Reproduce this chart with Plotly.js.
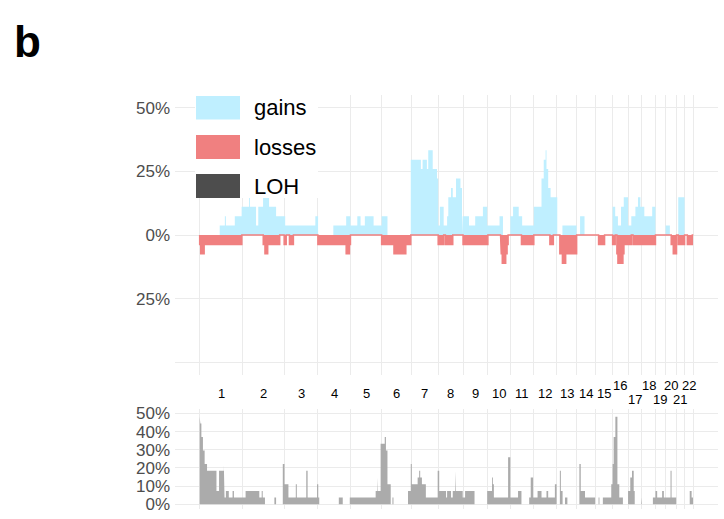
<!DOCTYPE html>
<html>
<head>
<meta charset="utf-8">
<script src="https://cdn.plot.ly/plotly-3.0.1.min.js"></script>
<style>
body { margin: 0; background: #fff; }
#plot { width: 724px; height: 519px; }
</style>
</head>
<body>
<div id="plot"></div>
<script>
// chromosome sizes, hg19, in Mb
const chromNames = ['1','2','3','4','5','6','7','8','9','10','11','12','13','14','15','16','17','18','19','20','21','22'];
const chromLengths = [249.25, 243.20, 198.02, 191.15, 180.92, 171.12, 159.14, 146.36, 141.21, 135.53, 135.01,
                      133.85, 115.17, 107.35, 102.53, 90.35, 81.20, 78.08, 59.13, 63.03, 48.13, 51.30];

// segments: [start Mb, end Mb, % of samples], genome-wide positions
const gainSegs = [
    [117,147,3.7],[147,153,7.4],[153,205,3.7],[205,245,7.4],[245,288,11.1],[288,293,14.8],[293,329,11.1],
    [329,342,3.7],[342,370,11.1],[370,405,14.8],[405,446,11.1],[446,499,7.4],[499,675,3.7],[675,691,7.4],
    [780,855,3.7],[855,880,7.4],[880,920,3.7],[920,939,7.4],[939,964,3.7],[964,1015,7.4],[1015,1062,3.7],[1062,1096,7.4],
    [1232,1291,29.6],[1291,1301,25.9],[1301,1326,29.6],[1326,1334,25.9],[1334,1360,33.3],[1360,1385,25.9],[1385,1392,22.2],
    [1392,1402,3.7],[1402,1424,11.1],[1424,1444,3.7],[1444,1451,7.4],[1451,1467,14.8],[1467,1477,18.5],[1477,1496,14.8],
    [1496,1522,22.2],[1522,1531,18.5],[1531,1535,14.8],[1535,1572,7.4],[1572,1608,3.7],[1608,1653,7.4],[1653,1678,11.1],
    [1678,1750,3.7],[1750,1770,7.4],
    [1813,1829,7.4],[1829,1862,11.1],[1862,1882,7.4],[1882,1950,3.7],[1950,1995,11.1],[1995,2008,22.2],[2008,2019,29.6],
    [2019,2024,33.3],[2024,2034,25.9],[2034,2048,18.5],[2048,2087,14.8],
    [2117,2200,3.7],[2220,2246,7.4],
    [2410,2425,11.1],[2425,2441,7.4],[2441,2459,3.7],[2459,2475,11.1],[2475,2500,14.8],[2500,2519,3.7],[2519,2543,7.4],
    [2543,2558,11.1],[2558,2572,14.8],[2572,2595,11.1],[2595,2641,7.4],[2641,2660,11.1],
    [2719,2744,3.7],[2793,2830,14.8]
];

const lossSegs = [
    [0,6,3.7],[6,26,7.4],[26,246,3.7],[371,381,3.7],[381,397,7.4],[397,467,3.7],[493,505,3.7],[524,547,3.7],
    [690,855,3.7],[855,874,7.4],[874,880,3.7],[1062,1134,3.7],[1134,1203,7.4],[1203,1232,3.7],
    [1392,1424,3.7],[1434,1477,3.7],[1537,1682,3.7],
    [1756,1760,3.7],[1760,1766,7.4],[1766,1786,11.1],[1786,1794,7.4],[1794,1800,3.7],
    [1878,1950,3.7],[2044,2064,3.7],[2102,2117,7.4],[2117,2136,11.1],[2136,2200,7.4],[2328,2363,3.7],
    [2410,2425,3.7],[2435,2441,7.4],[2441,2470,11.1],[2470,2476,7.4],[2476,2519,3.7],[2529,2660,3.7],
    [2752,2764,3.7],[2764,2783,7.4],[2793,2830,3.7],[2846,2875,3.7]
];

const lohSegs = [
    [0,4,48.1],[4,10,44.4],[10,19,37.0],[19,29,29.6],[29,43,22.2],[43,98,18.5],[98,113,7.4],[113,141,18.5],
    [141,145,22.2],[145,153,3.7],[153,170,7.4],[170,192,3.7],[192,200,7.4],[200,268,3.7],[268,348,7.4],
    [348,362,3.7],[362,368,7.4],[368,381,3.7],[436,446,3.7],
    [485,495,22.2],[495,518,11.1],[518,561,3.7],[561,567,11.1],[567,622,3.7],[622,630,18.5],[630,685,3.7],
    [685,692,11.1],[692,698,3.7],[812,835,3.7],
    [876,1027,3.7],[1027,1037,7.4],[1037,1040,14.8],[1040,1056,7.4],[1056,1080,33.3],[1080,1087,37.0],
    [1087,1096,29.6],[1096,1115,11.1],[1125,1131,3.7],
    [1216,1232,7.4],[1232,1238,22.2],[1238,1272,11.1],[1272,1281,14.8],[1281,1287,18.5],[1287,1297,14.8],
    [1297,1320,11.1],[1320,1389,3.7],[1389,1398,18.5],[1398,1438,7.4],[1438,1444,3.7],[1444,1467,7.4],
    [1467,1477,3.7],[1477,1492,7.4],[1492,1496,18.5],[1496,1535,7.4],[1535,1549,3.7],[1549,1604,7.4],
    [1678,1706,7.4],[1706,1711,14.8],[1711,1717,11.1],[1717,1800,3.7],[1800,1813,25.9],[1813,1858,3.7],[1858,1878,7.4],
    [1923,1932,3.7],[1932,1946,14.8],[1946,1972,3.7],[1972,1995,7.4],[1995,2024,3.7],[2024,2034,7.4],
    [2034,2073,3.7],[2073,2083,11.1],
    [2102,2108,18.5],[2108,2118,7.4],[2132,2146,3.7],
    [2216,2224,22.2],[2224,2249,7.4],[2249,2308,3.7],[2328,2333,3.7],
    [2353,2402,3.7],[2402,2410,11.1],[2410,2416,22.2],[2416,2426,37.0],[2426,2438,48.1],[2438,2449,11.1],[2449,2470,3.7],
    [2500,2513,7.4],[2513,2523,14.8],[2523,2533,18.5],[2533,2539,7.4],[2578,2582,3.7],
    [2645,2660,3.7],[2660,2670,7.4],[2670,2699,3.7],[2699,2709,7.4],[2709,2748,3.7],[2748,2754,18.5],[2754,2781,3.7],
    [2860,2871,7.4],[2871,2879,3.7]
];

const topTicks = [-50, -25, 0, 25, 50];
const topTickText = ['', '25%', '0%', '25%', '50%'];
const lohTicks = [0, 10, 20, 30, 40, 50];
const lohTickText = ['0%', '10%', '20%', '30%', '40%', '50%'];

// chromosome boundaries and label positions
let bounds = [0];
for(let i = 0; i < chromLengths.length; i++) {
    bounds.push(bounds[i] + chromLengths[i]);
}
const genomeEnd = bounds[bounds.length-1];

// page geometry helpers (for legend / labels only)
const W = 724, H = 519, ML = 175, MR = 6;
function px2x(px) { return (px - ML) / (W - ML - MR); }
function py2y(py) { return (H - py) / H; }

// turn segments into a closed step outline
function steps(segs, sign) {
    let x = [], y = [];
    segs.forEach(function(s) {
        x.push(s[0], s[0], s[1], s[1]);
        y.push(0, sign*s[2], sign*s[2], 0);
    });
    return {x: x, y: y};
}

let g = steps(gainSegs, 1);
let l = steps(lossSegs, -1);
l.x.unshift(0); l.y.unshift(0);           // red baseline over the whole genome
l.x.push(genomeEnd); l.y.push(0);
let h = steps(lohSegs, 1);

var traceGains = {
    x: g.x, y: g.y, mode: 'lines', fill: 'tozeroy',
    fillcolor: '#BFEFFF', line: {width: 0, color: '#BFEFFF'},
    xaxis: 'x', yaxis: 'y', hoverinfo: 'skip', name: 'gains'
};
var traceLosses = {
    x: l.x, y: l.y, mode: 'lines', fill: 'tozeroy',
    fillcolor: '#F08080', line: {width: 1.5, color: '#F08080'},
    xaxis: 'x', yaxis: 'y', hoverinfo: 'skip', name: 'losses'
};
var traceLOH = {
    x: h.x, y: h.y, mode: 'lines', fill: 'tozeroy',
    fillcolor: '#ABABAB', line: {width: 0, color: '#ABABAB'},
    xaxis: 'x2', yaxis: 'y2', hoverinfo: 'skip', name: 'LOH'
};

var grid = '#EBEBEB';
var tickFont = {family: 'Liberation Sans, Arial, sans-serif', size: 17, color: '#4D4D4D'};
var xRange = [-144, 3025];

// chromosome number labels, 16-22 staggered on two rows
var annotations = [];
for(let i = 0; i < chromNames.length; i++) {
    let n = i + 1;
    let row = 393;
    if(n >= 16) row = (n % 2 === 0) ? 385 : 399;
    annotations.push({
        x: (bounds[i] + bounds[i+1]) / 2, xref: 'x', y: py2y(row), yref: 'paper',
        text: chromNames[i], showarrow: false, xanchor: 'center', yanchor: 'middle',
        font: {family: 'Liberation Sans, Arial, sans-serif', size: 13, color: '#000'}
    });
}

// legend drawn by hand (big keys)
var legendItems = [['gains', '#BFEFFF', 96, 119.5], ['losses', '#F08080', 135, 159], ['LOH', '#4D4D4D', 174, 198]];
var shapes = [{
    type: 'rect', xref: 'paper', yref: 'paper', layer: 'above',
    x0: px2x(195), x1: px2x(318), y0: py2y(198), y1: py2y(88),
    fillcolor: '#FFFFFF', line: {width: 0}
}];
legendItems.forEach(function(it) {
    shapes.push({
        type: 'rect', xref: 'paper', yref: 'paper', layer: 'above',
        x0: px2x(196), x1: px2x(240), y0: py2y(it[3]), y1: py2y(it[2]),
        fillcolor: it[1], line: {width: 0}
    });
    annotations.push({
        x: px2x(252), xref: 'paper', y: py2y((it[2] + it[3]) / 2), yref: 'paper',
        text: it[0], showarrow: false, xanchor: 'left', yanchor: 'middle',
        font: {family: 'Liberation Sans, Arial, sans-serif', size: 22, color: '#000'}
    });
});

// panel letter
annotations.push({
    x: px2x(12), xref: 'paper', y: py2y(41), yref: 'paper',
    text: '<b>b</b>', showarrow: false, xanchor: 'left', yanchor: 'middle',
    font: {family: 'Liberation Sans, Arial, sans-serif', size: 44, color: '#000'}
});

var layout = {
    width: W, height: H,
    margin: {l: ML, r: MR, t: 0, b: 0},
    paper_bgcolor: '#FFFFFF', plot_bgcolor: '#FFFFFF',
    showlegend: false,
    xaxis: {
        domain: [0, 1], range: xRange, anchor: 'y',
        tickvals: bounds, showticklabels: false, ticks: '',
        showgrid: true, gridcolor: grid, gridwidth: 1, zeroline: false, showline: false
    },
    yaxis: {
        domain: [py2y(375), py2y(95)], range: [-55, 55], anchor: 'x',
        tickvals: topTicks, ticktext: topTickText, tickfont: tickFont, ticks: '',
        ticklabelstandoff: 4,
        showgrid: true, gridcolor: grid, gridwidth: 1, zeroline: false, showline: false
    },
    xaxis2: {
        domain: [0, 1], range: xRange, anchor: 'y2',
        tickvals: bounds, showticklabels: false, ticks: '',
        showgrid: true, gridcolor: grid, gridwidth: 1, zeroline: false, showline: false
    },
    yaxis2: {
        domain: [py2y(508.9), py2y(408.8)], range: [-2.5, 52.5], anchor: 'x2',
        tickvals: lohTicks, ticktext: lohTickText, tickfont: tickFont, ticks: '',
        ticklabelstandoff: 4,
        showgrid: true, gridcolor: grid, gridwidth: 1, zeroline: false, showline: false
    },
    shapes: shapes,
    annotations: annotations
};

Plotly.newPlot('plot', [traceGains, traceLosses, traceLOH], layout, {staticPlot: true});
</script>
</body>
</html>
